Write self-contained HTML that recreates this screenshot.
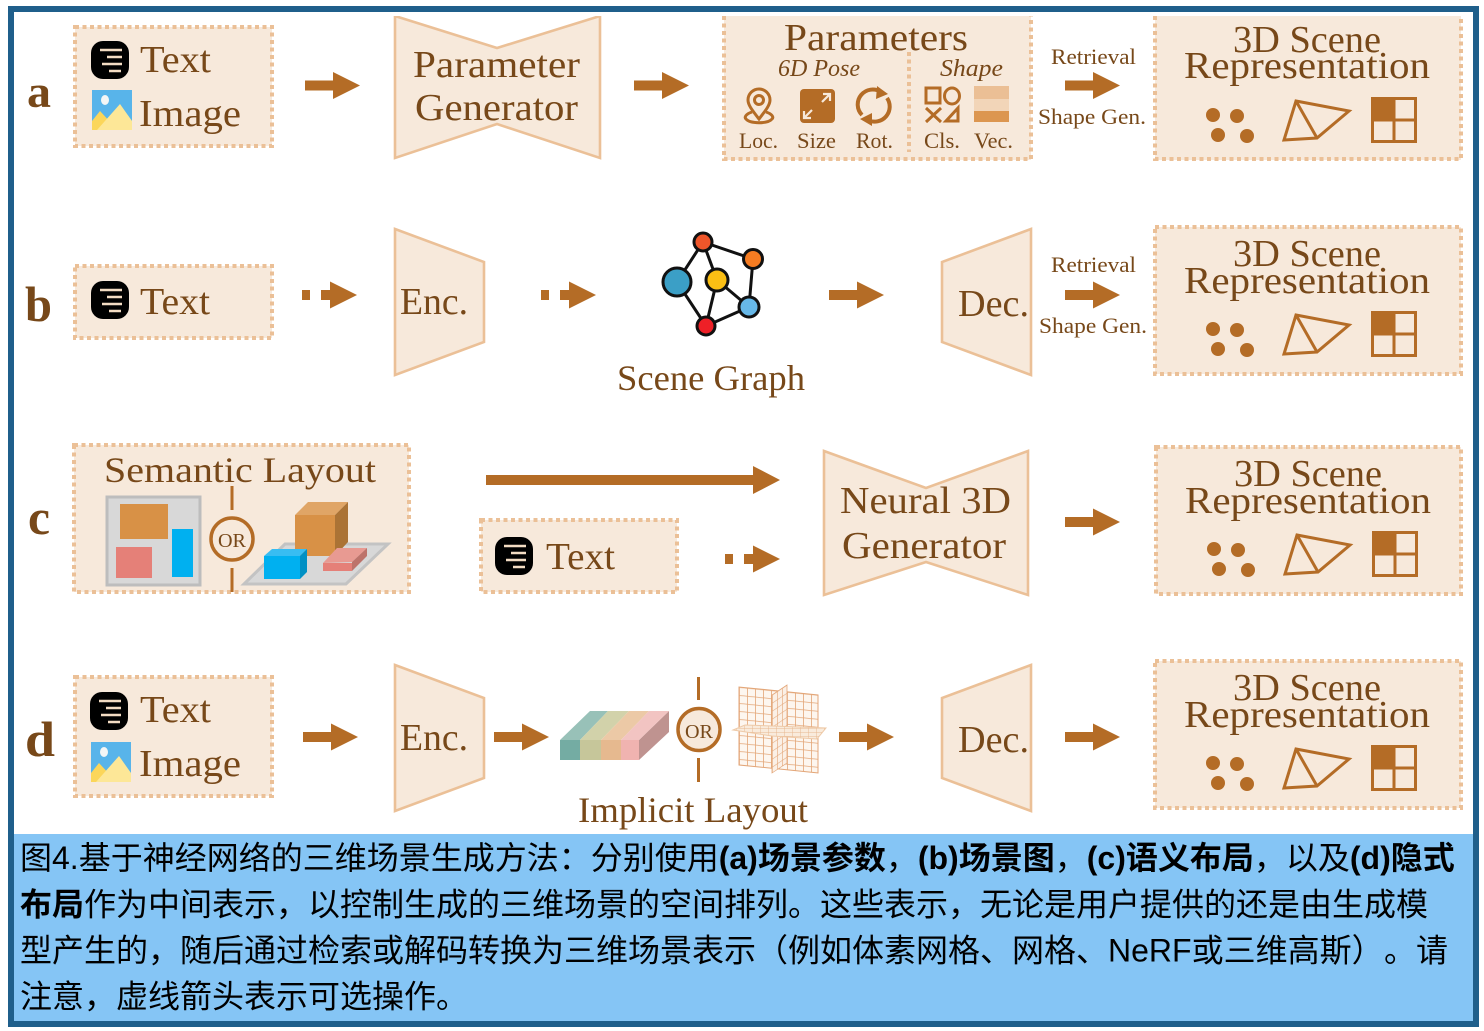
<!DOCTYPE html>
<html><head><meta charset="utf-8"><style>
html,body{margin:0;padding:0;background:#fff;width:1484px;height:1031px;overflow:hidden}
svg{display:block}
.s{font-family:"Liberation Serif",serif;fill:#774819}
.c{font-family:"Liberation Sans","Noto Sans CJK SC",sans-serif;font-size:32px;fill:#000}
.b{font-weight:700}
.box{fill:#f7e9db;stroke:#ebc097;stroke-width:4;stroke-dasharray:4 3.5}
.tr{fill:#f7e9db;stroke:#ebc097;stroke-width:2.6}
.i{fill:none;stroke:#b46c26;stroke-width:3}
</style></head><body>
<svg width="1484" height="1031" viewBox="0 0 1484 1031" xmlns="http://www.w3.org/2000/svg">
<defs>
<path id="arr" fill="#b46c26" d="M0-5H28V-13.5L55 0 28 13.5V5H0Z"/>
<path id="darr" fill="#b46c26" d="M0-5H8V5H0ZM19-5H28V-13.5L55 0 28 13.5V5H19Z"/>
<g id="ti"><rect width="38" height="38" rx="12" fill="#000"/><path d="M9 9H31M16 16H31M11 23H31M18 30H30" stroke="#f3dcc3" stroke-width="2.6" fill="none"/></g>
<g id="ii"><rect width="40" height="40" fill="#58b4ea"/><ellipse cx="13" cy="10" rx="4" ry="5" fill="#f4f6f6"/><path d="M0 31 8 21 20 34 13 40H0Z" fill="#fbd65a"/><path d="M5 40 28 14 40 31V40Z" fill="#fde797"/></g>
<g id="sc">
<path fill="#b46c26" d="M1206 115a7 7 0 1 0 14 0a7 7 0 1 0-14 0ZM1230 116a7 7 0 1 0 14 0a7 7 0 1 0-14 0ZM1211 135a7 7 0 1 0 14 0a7 7 0 1 0-14 0ZM1240 136a7 7 0 1 0 14 0a7 7 0 1 0-14 0Z"/>
<path d="M1296 101 1349 111 1317 138 1284 140ZM1296 101 1317 138" fill="none" stroke="#b46c26" stroke-width="3"/>
<rect x="1372" y="98" width="22" height="22" fill="#b46c26"/>
<path d="M1372.5 98.5H1415.5V141.5H1372.5ZM1394 98V142M1372 120H1416" fill="none" stroke="#b46c26" stroke-width="3"/>
</g>
<pattern id="gr" width="8" height="8" patternUnits="userSpaceOnUse"><rect width="8" height="8" fill="#fdf6ef"/><path d="M0 0H8M0 0V8" stroke="#e3a678" stroke-width="1.6"/></pattern>
<pattern id="gs" width="5" height="8" patternUnits="userSpaceOnUse"><rect width="5" height="8" fill="#fbf0e6"/><path d="M0 0H5M0 0V8" stroke="#e3a678" stroke-width="1.2"/></pattern>
<pattern id="gh" width="8" height="4" patternUnits="userSpaceOnUse"><rect width="8" height="4" fill="#f9ebdc"/><path d="M0 0H8M0 0V4" stroke="#e8b892" stroke-width="1"/></pattern>
</defs>

<rect x="11" y="9" width="1465" height="1015" fill="#fff" stroke="#1f5f8b" stroke-width="6"/>
<rect x="14" y="834" width="1459" height="187" fill="#85c5f5"/>

<!-- row a -->
<text class="s b" x="27" y="107" font-size="46" textLength="24" lengthAdjust="spacingAndGlyphs">a</text>
<rect class="box" x="75" y="27" width="197" height="119"/>
<use href="#ti" x="91" y="41"/>
<use href="#ii" x="92" y="90"/>
<text class="s" x="140" y="72" font-size="38" textLength="71" lengthAdjust="spacingAndGlyphs">Text</text>
<text class="s" x="139" y="126" font-size="38" textLength="102" lengthAdjust="spacingAndGlyphs">Image</text>
<use href="#arr" x="305" y="85.5"/>
<polygon class="tr" points="395,16 497,48 600,16 600,158 497,124 395,158"/>
<rect x="388" y="12" width="220" height="4" fill="#fff"/>
<text class="s" x="413" y="77" font-size="38" textLength="167" lengthAdjust="spacingAndGlyphs">Parameter</text>
<text class="s" x="415" y="120" font-size="38" textLength="163" lengthAdjust="spacingAndGlyphs">Generator</text>
<use href="#arr" x="634" y="85.5"/>
<rect x="724" y="16" width="307" height="144" fill="#f7e9db"/>
<path d="M724 16V159H1031V16" fill="none" stroke="#ebc097" stroke-width="4" stroke-dasharray="4 3.5"/>
<path d="M909 52V152" fill="none" stroke="#ebc097" stroke-width="4" stroke-dasharray="4 3.5"/>
<text class="s" x="784" y="50" font-size="38" textLength="184" lengthAdjust="spacingAndGlyphs">Parameters</text>
<text class="s" x="778" y="76" font-size="24" font-style="italic" textLength="82" lengthAdjust="spacingAndGlyphs">6D Pose</text>
<text class="s" x="940" y="76" font-size="24" font-style="italic" textLength="63" lengthAdjust="spacingAndGlyphs">Shape</text>
<text class="s" x="739" y="148" font-size="22" textLength="39" lengthAdjust="spacingAndGlyphs">Loc.</text>
<text class="s" x="797" y="148" font-size="22" textLength="39" lengthAdjust="spacingAndGlyphs">Size</text>
<text class="s" x="856" y="148" font-size="22" textLength="37" lengthAdjust="spacingAndGlyphs">Rot.</text>
<text class="s" x="924" y="148" font-size="22" textLength="36" lengthAdjust="spacingAndGlyphs">Cls.</text>
<text class="s" x="974" y="148" font-size="22" textLength="39" lengthAdjust="spacingAndGlyphs">Vec.</text>
<!-- loc -->
<path d="M759 119C752 110 748 105 748 100A11 11 0 0 1 770 100C770 105 766 110 759 119Z" class="i" stroke-width="2.2"/>
<circle cx="759" cy="100" r="4.5" class="i" stroke-width="2.2"/>
<path d="M752 112C746 114 744 117 746 119 750 124 768 124 772 119 774 117 772 114 766 112" class="i" stroke-width="2.2"/>
<!-- size -->
<rect x="800" y="89" width="35" height="34" rx="4" fill="#b46c26"/>
<path d="M822 102 830 94M823 94H830V101M812 110 804 118M804 111V118H811" fill="none" stroke="#f7e9db" stroke-width="2.2"/>
<!-- rot -->
<path d="M862 115A15 15 0 0 1 881 92M887 98A15 15 0 0 1 868 120" fill="none" stroke="#b46c26" stroke-width="4"/>
<path d="M877 86 888 94 876 99ZM872 126 860 119 872 113Z" fill="#b46c26"/>
<!-- cls -->
<rect x="926" y="88" width="14" height="15" class="i" stroke-width="2.6"/>
<ellipse cx="952" cy="96" rx="7.5" ry="8" class="i" stroke-width="2.6"/>
<path d="M926 108 941 122M941 108 926 122" class="i" stroke-width="2.8"/>
<path d="M958 108V121H946Z" class="i" stroke-width="2.6"/>
<!-- vec -->
<rect x="974" y="86" width="35" height="13" fill="#ebbf95"/>
<rect x="974" y="99" width="35" height="12" fill="#f2d5b8"/>
<rect x="974" y="111" width="35" height="11" fill="#dc9650"/>
<text class="s" x="1051" y="64" font-size="22" textLength="85" lengthAdjust="spacingAndGlyphs">Retrieval</text>
<use href="#arr" x="1065" y="85.5"/>
<text class="s" x="1038" y="124" font-size="22" textLength="108" lengthAdjust="spacingAndGlyphs">Shape Gen.</text>
<rect x="1155" y="16" width="306" height="144" fill="#f7e9db"/>
<path d="M1155 16V159H1461V16" fill="none" stroke="#ebc097" stroke-width="4" stroke-dasharray="4 3.5"/>
<text class="s" x="1233" y="52" font-size="38" textLength="148" lengthAdjust="spacingAndGlyphs">3D Scene</text>
<text class="s" x="1184" y="78" font-size="38" textLength="246" lengthAdjust="spacingAndGlyphs">Representation</text>
<use href="#sc"/>

<!-- row b -->
<text class="s b" x="25" y="321" font-size="50" textLength="27" lengthAdjust="spacingAndGlyphs">b</text>
<rect class="box" x="75" y="266" width="197" height="72"/>
<use href="#ti" x="91" y="281"/>
<text class="s" x="140" y="314" font-size="38" textLength="70" lengthAdjust="spacingAndGlyphs">Text</text>
<use href="#darr" x="302" y="295"/>
<polygon class="tr" points="395,229 484,262 484,342 395,375"/>
<text class="s" x="400" y="314" font-size="38" textLength="68" lengthAdjust="spacingAndGlyphs">Enc.</text>
<use href="#darr" x="541" y="295"/>
<g stroke="#111" stroke-width="3" fill="none"><path d="M703 242 753 259 749 307 706 326 677 282ZM703 242 717 280 749 307M717 280 706 326"/></g>
<g stroke="#111" stroke-width="3">
<circle cx="703" cy="242" r="9" fill="#f0562a"/>
<circle cx="753" cy="259" r="9.5" fill="#f57c22"/>
<circle cx="677" cy="282" r="14" fill="#3b9fc6"/>
<circle cx="717" cy="280" r="11" fill="#fbbf14"/>
<circle cx="749" cy="307" r="10" fill="#67b8e8"/>
<circle cx="706" cy="326" r="9" fill="#ee2027"/>
</g>
<text class="s" x="617" y="390" font-size="36" textLength="188" lengthAdjust="spacingAndGlyphs">Scene Graph</text>
<use href="#arr" x="829" y="295"/>
<polygon class="tr" points="1031,229 942,262 942,342 1031,375"/>
<text class="s" x="958" y="316" font-size="38" textLength="71" lengthAdjust="spacingAndGlyphs">Dec.</text>
<text class="s" x="1051" y="272" font-size="22" textLength="85" lengthAdjust="spacingAndGlyphs">Retrieval</text>
<use href="#arr" x="1065" y="295"/>
<text class="s" x="1039" y="333" font-size="22" textLength="108" lengthAdjust="spacingAndGlyphs">Shape Gen.</text>
<rect class="box" x="1155" y="227" width="306" height="147"/>
<text class="s" x="1233" y="266" font-size="38" textLength="148" lengthAdjust="spacingAndGlyphs">3D Scene</text>
<text class="s" x="1184" y="293" font-size="38" textLength="246" lengthAdjust="spacingAndGlyphs">Representation</text>
<use href="#sc" y="214"/>

<!-- row c -->
<text class="s b" x="28" y="534" font-size="50" textLength="22" lengthAdjust="spacingAndGlyphs">c</text>
<rect class="box" x="74" y="445" width="335" height="147"/>
<text class="s" x="104" y="482" font-size="36" textLength="272" lengthAdjust="spacingAndGlyphs">Semantic Layout</text>
<rect x="107" y="497" width="93" height="88" fill="#d8d8d8" stroke="#bdbdbd" stroke-width="3"/>
<rect x="120" y="504" width="48" height="35" fill="#d89146"/>
<rect x="116" y="547" width="36" height="31" fill="#e58078"/>
<rect x="172" y="529" width="21" height="48" fill="#00b0f0"/>
<path d="M232 486V510M232 568V592" stroke="#b46c26" stroke-width="3" fill="none"/>
<circle cx="232" cy="539" r="21" fill="#f7e9db" stroke="#b46c26" stroke-width="3.5"/>
<text class="s" x="218" y="547" font-size="20" textLength="28" lengthAdjust="spacingAndGlyphs">OR</text>
<polygon points="244,584 346,584 388,544 285,544" fill="#d8d8d8" stroke="#c3c3c3" stroke-width="3"/>
<polygon points="295,515 308,502 348,502 335,515" fill="#e0a566"/>
<polygon points="335,515 348,502 348,542 335,556" fill="#ab7335"/>
<rect x="295" y="515" width="40" height="41" fill="#d89146"/>
<polygon points="264,556 272,549 307,549 300,556" fill="#38bdf2"/>
<polygon points="300,556 307,549 307,572 300,579" fill="#0090c4"/>
<rect x="264" y="556" width="36" height="23" fill="#00b0f0"/>
<polygon points="323,563 337,548 367,548 352,562" fill="#e89a92"/>
<polygon points="352,562 367,548 367,556 352,571" fill="#bd736b"/>
<rect x="323" y="563" width="29" height="8" fill="#e58078"/>
<path fill="#b46c26" d="M486 475H753V466L780 480 753 494V485H486Z"/>
<rect class="box" x="481" y="520" width="196" height="72"/>
<use href="#ti" x="495" y="537"/>
<text class="s" x="546" y="569" font-size="38" textLength="69" lengthAdjust="spacingAndGlyphs">Text</text>
<use href="#darr" x="725" y="559"/>
<polygon class="tr" points="824,451 926,488 1028,451 1028,595 926,562 824,595"/>
<text class="s" x="840" y="513" font-size="38" textLength="171" lengthAdjust="spacingAndGlyphs">Neural 3D</text>
<text class="s" x="842" y="558" font-size="38" textLength="164" lengthAdjust="spacingAndGlyphs">Generator</text>
<use href="#arr" x="1065" y="522"/>
<rect class="box" x="1156" y="447" width="305" height="147"/>
<text class="s" x="1234" y="486" font-size="38" textLength="148" lengthAdjust="spacingAndGlyphs">3D Scene</text>
<text class="s" x="1185" y="513" font-size="38" textLength="246" lengthAdjust="spacingAndGlyphs">Representation</text>
<use href="#sc" x="1" y="434"/>

<!-- row d -->
<text class="s b" x="25" y="756" font-size="50" textLength="30" lengthAdjust="spacingAndGlyphs">d</text>
<rect class="box" x="75" y="677" width="197" height="119"/>
<use href="#ti" x="90" y="692"/>
<use href="#ii" x="91" y="742"/>
<text class="s" x="140" y="722" font-size="38" textLength="71" lengthAdjust="spacingAndGlyphs">Text</text>
<text class="s" x="139" y="776" font-size="38" textLength="102" lengthAdjust="spacingAndGlyphs">Image</text>
<use href="#arr" x="303" y="737"/>
<polygon class="tr" points="395,665 484,698 484,778 395,811"/>
<text class="s" x="400" y="750" font-size="38" textLength="68" lengthAdjust="spacingAndGlyphs">Enc.</text>
<use href="#arr" x="494" y="737"/>
<polygon points="639,740 669,711 669,732 639,760" fill="#bf9390"/>
<polygon points="560,740 590,711 608,711 580,740" fill="#98c1b8"/>
<polygon points="580,740 608,711 629,711 601,740" fill="#d2d2aa"/>
<polygon points="601,740 629,711 649,711 621,740" fill="#ecc9a6"/>
<polygon points="621,740 649,711 669,711 639,740" fill="#f2c4c2"/>
<rect x="560" y="740" width="20" height="20" fill="#74aca3"/>
<rect x="580" y="740" width="21" height="20" fill="#c6c69a"/>
<rect x="601" y="740" width="20" height="20" fill="#e6b98f"/>
<rect x="621" y="740" width="18" height="20" fill="#f0b3b0"/>
<path d="M698.5 677V700M698.5 758V782" stroke="#b46c26" stroke-width="3" fill="none"/>
<circle cx="699" cy="729.5" r="21" fill="#f7e9db" stroke="#b46c26" stroke-width="3.5"/>
<text class="s" x="685" y="738" font-size="20" textLength="28" lengthAdjust="spacingAndGlyphs">OR</text>
<g transform="matrix(1 .1 0 1 739 687)"><rect width="79" height="78" fill="url(#gr)" stroke="#e3a678"/></g>
<g transform="matrix(1 -.67 0 1 772 695)"><rect width="15" height="78" fill="url(#gs)" stroke="#e3a678" stroke-width=".8"/></g>
<polygon points="733,730 745,725 826,728 817,739 772,736" fill="url(#gh)" stroke="#eecaa8"/>
<text class="s" x="578" y="822" font-size="36" textLength="230" lengthAdjust="spacingAndGlyphs">Implicit Layout</text>
<use href="#arr" x="839" y="737"/>
<polygon class="tr" points="1031,665 942,698 942,778 1031,811"/>
<text class="s" x="958" y="752" font-size="38" textLength="71" lengthAdjust="spacingAndGlyphs">Dec.</text>
<use href="#arr" x="1065" y="737"/>
<rect class="box" x="1155" y="661" width="306" height="147"/>
<text class="s" x="1233" y="700" font-size="38" textLength="148" lengthAdjust="spacingAndGlyphs">3D Scene</text>
<text class="s" x="1184" y="727" font-size="38" textLength="246" lengthAdjust="spacingAndGlyphs">Representation</text>
<use href="#sc" y="648"/>

<!-- caption -->
<text class="c" x="20" y="869">图4.基于神经网络的三维场景生成方法：分别使用<tspan class="b">(a)场景参数</tspan>，<tspan class="b">(b)场景图</tspan>，<tspan class="b">(c)语义布局</tspan>，以及<tspan class="b">(d)隐式</tspan></text>
<text class="c" x="20" y="915.5"><tspan class="b">布局</tspan>作为中间表示，以控制生成的三维场景的空间排列。这些表示，无论是用户提供的还是由生成模</text>
<text class="c" x="20" y="961.5">型产生的，随后通过检索或解码转换为三维场景表示（例如体素网格、网格、NeRF或三维高斯）<tspan x="1384">。</tspan><tspan x="1416">请</tspan></text>
<text class="c" x="20" y="1007.5">注意，虚线箭头表示可选操作。</text>
</svg>
</body></html>
